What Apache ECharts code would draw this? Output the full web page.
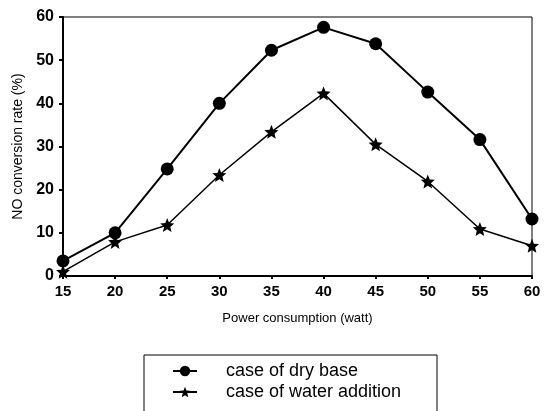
<!DOCTYPE html>
<html>
<head>
<meta charset="utf-8">
<script src="https://cdn.jsdelivr.net/npm/echarts@6/dist/echarts.min.js"></script>
<style>
  html, body { margin: 0; padding: 0; background: #fff; }
  #chart { width: 550px; height: 411px; }
</style>
</head>
<body>
<div id="chart"></div>
<script>
const powers = [15, 20, 25, 30, 35, 40, 45, 50, 55, 60]
const dryBase = [3.5, 10, 24.8, 40, 52.3, 57.6, 53.8, 42.6, 31.6, 13.2]
const waterAddition = [1, 7.9, 11.8, 23.4, 33.4, 42.3, 30.5, 21.9, 10.9, 7]
const seriesNames = ['case of dry base', 'case of water addition']

const starPath = 'path://M0,-10 L2.6,-3.6 L9.5,-3.1 L4.2,1.4 L5.9,8.1 L0,4.5 L-5.9,8.1 L-4.2,1.4 L-9.5,-3.1 L-2.6,-3.6 Z'
const font = 'Liberation Sans, Arial, sans-serif'

const chart = echarts.init(document.getElementById('chart'))
const option = {
  animation: false,
  backgroundColor: '#fff',
  grid: {
    left: 63,
    right: 18,
    top: 17,
    bottom: 135,
    show: true,
    borderColor: '#000',
    borderWidth: 1
  },
  // legend frame, its bottom edge runs off the page like in the scan
  graphic: [
    {
      type: 'rect',
      shape: { x: 144, y: 355, width: 293, height: 80 },
      style: { fill: 'none', stroke: '#000', lineWidth: 1 }
    }
  ],
  legend: {
    data: seriesNames,
    orient: 'vertical',
    left: 172,
    top: 362,
    height: 60,
    padding: 0,
    itemGap: 3,
    itemWidth: 24,
    itemHeight: 13,
    textStyle: { fontFamily: font, fontSize: 18, color: '#000', padding: [0, 0, 0, 24] }
  },
  xAxis: {
    type: 'value',
    min: 15,
    max: 60,
    interval: 5,
    name: 'Power consumption (watt)',
    nameLocation: 'middle',
    nameGap: 36,
    nameTextStyle: { fontFamily: font, fontSize: 13, color: '#000' },
    axisLine: { lineStyle: { color: '#000', width: 2 } },
    axisTick: { show: true, length: 3, lineStyle: { color: '#000', width: 2 } },
    axisLabel: { fontFamily: font, fontSize: 15, fontWeight: 'bold', color: '#000', margin: 8 },
    splitLine: { show: false }
  },
  yAxis: {
    type: 'value',
    min: 0,
    max: 60,
    interval: 10,
    name: 'NO conversion rate (%)',
    nameLocation: 'middle',
    nameGap: 36,
    nameTextStyle: { fontFamily: font, fontSize: 14, color: '#000' },
    axisLine: { lineStyle: { color: '#000', width: 2 } },
    axisTick: { show: true, length: 4, lineStyle: { color: '#000', width: 2 } },
    axisLabel: { fontFamily: font, fontSize: 16, fontWeight: 'bold', color: '#000', margin: 9 },
    splitLine: { show: false }
  },
  series: [
    {
      name: seriesNames[0],
      type: 'line',
      data: powers.map((p, i) => [p, dryBase[i]]),
      symbol: 'circle',
      symbolSize: 13,
      lineStyle: { color: '#000', width: 2 },
      itemStyle: { color: '#000' }
    },
    {
      name: seriesNames[1],
      type: 'line',
      data: powers.map((p, i) => [p, waterAddition[i]]),
      symbol: starPath,
      symbolSize: 14,
      lineStyle: { color: '#000', width: 1.5 },
      itemStyle: { color: '#000' }
    }
  ]
}
chart.setOption(option)
window.addEventListener('resize', () => chart.resize())
</script>
</body>
</html>
